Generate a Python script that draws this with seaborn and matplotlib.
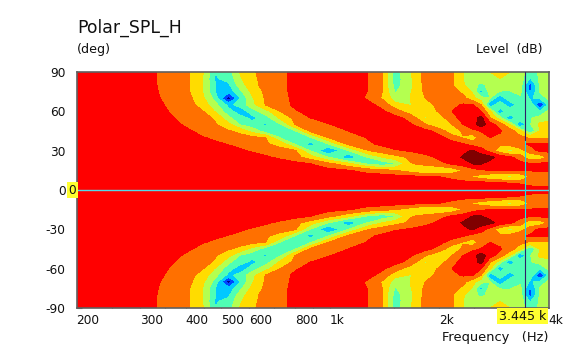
import numpy as np
import seaborn as sns
import matplotlib.pyplot as plt

# frequency columns (Hz) and angle rows (deg), upper half of the polar map
freq_hz = [200, 291, 330, 368, 410, 448, 483, 525, 566, 611, 663, 730, 802, 883, 989, 1123, 1267,
           1393, 1513, 1664, 1830, 2013, 2171, 2329, 2482, 2610, 2764, 2944, 3138, 3343, 3562, 3796, 4020]
angle_deg = [0, 5, 10, 15, 20, 25, 30, 35, 40, 45, 50, 55, 60, 65, 70, 75, 80, 85, 90]

level = [
    [7.5, 7.5, 7.5, 7.5, 7.5, 7.5, 7.5, 7.5, 7.5, 7.5, 7.5, 7.5, 7.5, 7.5, 7.5, 7.5, 7.5, 7.5, 7.5, 7.5, 7.5, 7.5, 7.5, 7.5, 7.5, 7.5, 7.5, 7.5, 7.5, 7.5, 7.5, 7.5, 7.5],
    [7.5, 7.5, 7.5, 7.5, 7.5, 7.5, 7.5, 7.5, 7.5, 7.5, 7.5, 7.5, 7.5, 7.5, 7.5, 7.5, 7.5, 7.5, 7.5, 7.5, 7.5, 7.5, 7.5, 7.5, 7.5, 7.5, 7.4, 7.3, 7.1, 6.95, 6.7, 6.6, 6.6],
    [7.5, 7.5, 7.5, 7.5, 7.5, 7.5, 7.5, 7.5, 7.5, 7.5, 7.5, 7.5, 7.5, 7.5, 7.5, 7.5, 7.5, 7.5, 7.4, 7.3, 7.15, 7.0, 6.7, 6.2, 5.9, 5.5, 5.2, 4.9, 4.6, 4.9, 6.0, 6.4, 6.5],
    [7.5, 7.5, 7.5, 7.5, 7.5, 7.5, 7.5, 7.5, 7.5, 7.5, 7.5, 7.5, 7.5, 7.5, 7.3, 7.05, 6.6, 6.3, 6.0, 5.5, 4.9, 4.9, 5.4, 6.0, 6.6, 6.9, 7.0, 7.1, 7.2, 7.2, 7.1, 7.1, 7.1],
    [7.5, 7.5, 7.5, 7.5, 7.5, 7.5, 7.5, 7.5, 7.5, 7.5, 7.5, 7.5, 7.3, 7.0, 6.3, 5.3, 3.9, 3.3, 3.9, 5.9, 6.3, 6.8, 7.1, 7.5, 8.05, 8.05, 7.7, 7.5, 7.5, 7.3, 7.1, 7.2, 7.2],
    [7.5, 7.5, 7.5, 7.5, 7.5, 7.5, 7.5, 7.5, 7.5, 7.5, 7.15, 6.8, 6.3, 5.5, 4.0, 2.2, 4.0, 5.0, 5.6, 6.2, 6.7, 7.2, 7.6, 8.1, 8.5, 8.5, 8.3, 7.6, 7.2, 6.5, 5.2, 5.3, 6.3],
    [7.5, 7.5, 7.5, 7.5, 7.5, 7.5, 7.5, 7.4, 7.15, 6.85, 6.6, 6.3, 6.1, 3.95, 1.9, 4.0, 5.9, 6.5, 6.9, 7.1, 7.4, 7.6, 7.7, 7.8, 8.1, 7.5, 6.6, 5.4, 4.6, 5.4, 6.6, 7.2, 7.2],
    [7.5, 7.5, 7.5, 7.5, 7.5, 7.5, 7.2, 6.95, 6.7, 6.4, 6.1, 5.7, 3.9, 2.6, 3.95, 6.2, 6.8, 7.2, 7.4, 7.5, 7.5, 7.5, 7.4, 7.1, 6.6, 6.4, 5.95, 6.1, 6.4, 6.9, 7.1, 7.2, 7.2],
    [7.5, 7.5, 7.5, 7.5, 7.3, 7.05, 6.8, 6.6, 6.4, 6.2, 6.0, 3.9, 3.2, 3.9, 6.0, 6.5, 7.05, 7.3, 7.5, 7.5, 7.4, 7.2, 6.6, 5.9, 5.4, 6.6, 7.0, 6.8, 6.5, 6.3, 5.8, 5.9, 5.8],
    [7.5, 7.5, 7.5, 7.5, 7.1, 6.6, 6.3, 6.1, 5.7, 4.6, 3.5, 3.3, 3.95, 6.2, 6.5, 7.0, 7.3, 7.5, 7.5, 7.5, 7.3, 6.6, 5.2, 6.2, 6.8, 7.05, 7.4, 7.1, 6.5, 5.3, 3.0, 5.0, 5.5],
    [7.5, 7.5, 7.5, 7.3, 6.7, 6.3, 6.05, 5.3, 3.9, 3.4, 2.9, 3.95, 6.0, 6.5, 6.95, 7.3, 7.5, 7.4, 7.3, 7.1, 6.1, 4.8, 6.0, 7.0, 7.5, 8.6, 7.4, 6.6, 5.0, 1.9, 3.9, 5.2, 5.4],
    [7.5, 7.5, 7.4, 7.05, 6.5, 6.2, 5.9, 4.2, 3.4, 2.7, 3.5, 5.2, 6.3, 7.0, 7.3, 7.5, 7.5, 7.5, 7.3, 6.7, 4.9, 5.5, 6.8, 7.2, 7.5, 8.4, 6.1, 4.4, 2.0, 3.9, 3.9, 4.4, 4.6],
    [7.5, 7.5, 7.3, 6.9, 6.3, 6.0, 4.9, 3.4, 2.4, 3.5, 4.6, 6.0, 6.9, 7.3, 7.5, 7.5, 7.4, 7.15, 6.5, 5.4, 5.3, 6.2, 7.0, 7.5, 7.6, 7.0, 5.2, 2.1, 4.0, 3.7, 3.9, 3.2, 4.3],
    [7.5, 7.45, 7.2, 6.8, 6.3, 5.5, 4.3, 2.7, 3.4, 4.7, 6.0, 6.6, 7.2, 7.4, 7.5, 7.5, 7.3, 6.7, 5.3, 4.95, 5.6, 6.3, 6.8, 7.1, 7.05, 6.0, 2.0, 4.0, 2.0, 3.9, 3.9, 0.7, 3.4],
    [7.5, 7.45, 7.15, 6.6, 6.2, 5.1, 3.6, 0.3, 3.0, 4.9, 6.1, 6.7, 7.2, 7.4, 7.5, 7.45, 6.9, 5.9, 4.5, 5.0, 6.0, 6.4, 6.5, 6.3, 5.3, 4.4, 4.0, 2.0, 4.0, 3.7, 2.9, 3.2, 4.3],
    [7.5, 7.4, 7.1, 6.5, 6.0, 4.9, 3.0, 2.4, 3.8, 5.3, 6.2, 6.8, 7.2, 7.4, 7.5, 7.4, 7.0, 6.0, 3.9, 4.9, 6.2, 6.4, 6.3, 5.8, 4.8, 2.6, 4.4, 3.95, 3.9, 4.4, 1.8, 4.2, 4.5],
    [7.5, 7.4, 7.05, 6.5, 6.0, 4.9, 3.0, 2.8, 4.5, 5.7, 6.3, 6.8, 7.2, 7.4, 7.5, 7.4, 7.0, 6.0, 3.6, 4.7, 6.3, 6.3, 6.1, 5.1, 4.5, 3.6, 4.5, 4.5, 4.6, 4.6, 1.5, 4.2, 4.5],
    [7.5, 7.4, 7.05, 6.5, 6.0, 4.9, 2.9, 3.3, 4.9, 5.8, 6.3, 6.8, 7.2, 7.4, 7.5, 7.4, 7.0, 6.0, 3.5, 4.8, 6.4, 6.3, 6.1, 5.0, 4.6, 4.6, 4.9, 5.0, 4.9, 4.6, 2.9, 4.2, 4.5],
    [7.5, 7.4, 7.05, 6.5, 6.0, 5.0, 3.0, 3.6, 5.1, 5.9, 6.3, 6.8, 7.2, 7.4, 7.5, 7.4, 7.0, 6.0, 3.6, 4.9, 6.4, 6.3, 6.1, 5.0, 4.6, 4.7, 5.0, 5.2, 5.0, 4.5, 3.4, 4.2, 4.5],
]

band_edges = [-1, 1, 2, 3, 4, 5, 6, 7, 8, 10]
band_colors = ['#00008c', '#0044ff', '#00c8ff', '#50ffb4', '#b4ff50', '#ffdc00', '#ff7000', '#ff0000', '#800000']

x_ticks = [200, 250, 300, 350, 400, 450, 500, 600, 700, 800, 900, 1000, 1500, 2000, 2500, 3000, 3500, 4000]
x_labels = {200: '200', 300: '300', 400: '400', 500: '500', 600: '600', 800: '800',
            1000: '1k', 2000: '2k', 3000: '3k', 4000: '4k'}
y_ticks = [-90, -75, -60, -45, -30, -15, 0, 15, 30, 45, 60, 75, 90]
y_labels = ['-90', '', '-60', '', '-30', '', '0', '', '30', '', '60', '', '90']
cursor_hz = 3445
cursor_label = '3.445 k'

#%%
sns.set_theme(style="white")
plt.rcParams['font.family'] = ['DejaVu Sans']
frame = '#606060'
ink = '#101010'

fig = plt.figure(figsize=(5.84, 3.51), dpi=100)
ax = fig.add_axes([76.5 / 584, 1 - 308 / 351, 472.5 / 584, 236 / 351])

# upper half mirrored about 0 deg
upper = np.array(level)
grid = np.vstack([upper[:0:-1], upper])
angles = np.concatenate([-np.array(angle_deg)[:0:-1], angle_deg])

ax.contourf(freq_hz, angles, grid, levels=band_edges, colors=sns.color_palette(band_colors))
ax.set_xscale('log')
ax.set_xlim(200, 4020)
ax.set_ylim(-90, 90)
ax.minorticks_off()

ax.set_xticks(x_ticks)
ax.set_xticklabels([x_labels.get(t, '') for t in x_ticks], ha='left', fontsize=8.7, color=ink)
ax.set_yticks(y_ticks)
ax.set_yticklabels(y_labels, fontsize=8.7, color=ink)
ax.tick_params(axis='both', which='major', direction='in', length=3.5, width=0.8, color=frame, left=True, bottom=True)
ax.tick_params(axis='x', pad=4)
ax.tick_params(axis='y', pad=8)
for spine in ax.spines.values():
    spine.set_color(frame)
    spine.set_linewidth(1.2)
ax.tick_params(top=False, right=False)

# cursor lines, drawn inverted against the map
ax.axhline(0, color='#55d8e8', lw=1, zorder=4)
ax.plot([cursor_hz, cursor_hz], [-38, 38], color='#10e0f0', lw=0.8, zorder=4)
ax.plot([cursor_hz, cursor_hz], [38, 90], color='#30206a', lw=0.8, zorder=4)
ax.plot([cursor_hz, cursor_hz], [-90, -38], color='#30206a', lw=0.8, zorder=4)

# cursor badges
ax.text(-0.0005, 0, '0', transform=ax.get_yaxis_transform(), ha='right', va='center', fontsize=8.7, color=ink,
        bbox=dict(facecolor='#ffff30', edgecolor='none', pad=1.2), zorder=5, clip_on=False)
ax.annotate(cursor_label, xy=(498.5 / 584, 1 - 316 / 351), xycoords='figure fraction', ha='left', va='center',
            fontsize=9.1, color=ink, bbox=dict(facecolor='#ffff30', edgecolor='none', pad=1.2), zorder=5)

fig.text(77 / 584, 1 - 28 / 351, 'Polar_SPL_H', fontsize=12.4, color=ink, va='center')
fig.text(77 / 584, 1 - 50 / 351, '(deg)', fontsize=9.1, color=ink, va='center')
fig.text(543 / 584, 1 - 50 / 351, 'Level  (dB)', fontsize=8.9, color=ink, va='center', ha='right')
fig.text(549 / 584, 1 - 338 / 351, 'Frequency   (Hz)', fontsize=9.4, color=ink, va='center', ha='right')

fig.savefig('out.png', dpi=100, facecolor='white')
